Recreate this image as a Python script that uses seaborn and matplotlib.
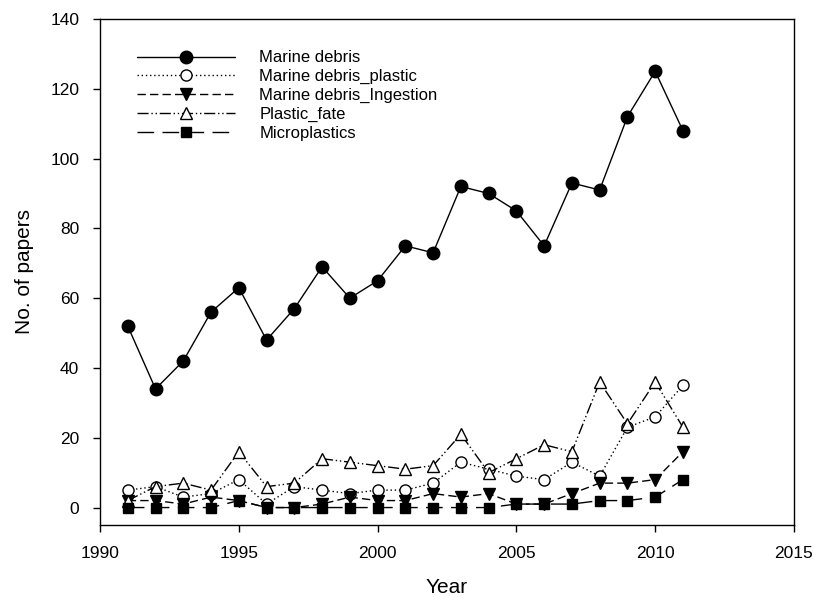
import pandas as pd
import matplotlib
matplotlib.use("Agg")
import matplotlib.pyplot as plt
import seaborn as sns

# Datos
years = list(range(1991, 2012))
marine_debris = [52, 34, 42, 56, 63, 48, 57, 69, 60, 65, 75, 73, 92, 90, 85, 75, 93, 91, 112, 125, 108]
marine_debris_plastic = [5, 6, 3, 4, 8, 1, 6, 5, 4, 5, 5, 7, 13, 11, 9, 8, 13, 9, 23, 26, 35]
marine_debris_ingestion = [2, 2, 1, 3, 2, 0, 0, 1, 3, 2, 2, 4, 3, 4, 1, 1, 4, 7, 7, 8, 16]
plastic_fate = [2, 6, 7, 5, 16, 6, 7, 14, 13, 12, 11, 12, 21, 10, 14, 18, 16, 36, 24, 36, 23]
microplastics = [0, 0, 0, 0, 2, 0, 0, 0, 0, 0, 0, 0, 0, 0, 1, 1, 1, 2, 2, 3, 8]

series = [
    ("Marine debris", marine_debris, "o", "black", "-", 9),
    ("Marine debris_plastic", marine_debris_plastic, "o", "white", (0, (1, 2)), 8),
    ("Marine debris_Ingestion", marine_debris_ingestion, "v", "black", (0, (6, 3)), 8),
    ("Plastic_fate", plastic_fate, "^", "white", (0, (8, 2, 1, 2, 1, 2)), 8),
    ("Microplastics", microplastics, "s", "black", (0, (12, 6)), 7.5),
]

sns.set_style("ticks")
plt.rcParams["font.family"] = ["Liberation Sans", "DejaVu Sans"]
plt.rcParams["text.color"] = "black"
plt.rcParams["axes.labelcolor"] = "black"

fig = plt.figure(figsize=(8.15, 5.97), dpi=100)
ax = fig.add_axes([0.1227, 0.1206, 0.8515, 0.8476])

for name, vals, mk, fc, ls, ms in series:
    df = pd.DataFrame({"Year": years, "n": vals})
    sns.lineplot(data=df, x="Year", y="n", ax=ax, color="black", linewidth=1,
                 linestyle=ls, marker=mk, markersize=ms, markerfacecolor=fc,
                 markeredgecolor="black", markeredgewidth=1, label=name)

ax.set_xlim(1990, 2015)
ax.set_ylim(-5, 140)
ax.set_xticks([1990, 1995, 2000, 2005, 2010, 2015])
ax.set_yticks([0, 20, 40, 60, 80, 100, 120, 140])
ax.tick_params(direction="out", length=5, width=1, labelsize=12.5, colors="black", pad=10)
for s in ax.spines.values():
    s.set_color("black")
    s.set_linewidth(1)

ax.set_xlabel("Year", fontsize=15, labelpad=12, color="black")
ax.set_ylabel("No. of papers", fontsize=15, labelpad=12, color="black")

leg = ax.legend(loc="upper left", bbox_to_anchor=(0.053, 0.938), frameon=False,
                fontsize=12, handlelength=5.9, handletextpad=1.45,
                labelspacing=0.23, borderaxespad=0, borderpad=0)
for t in leg.get_texts():
    t.set_color("black")

plt.savefig("out.png", dpi=100)
